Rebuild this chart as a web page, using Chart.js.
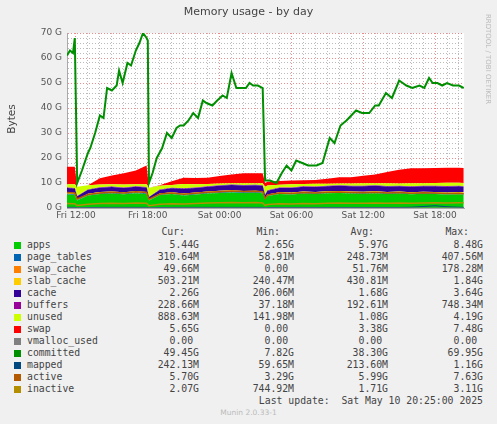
<!DOCTYPE html>
<html><head><meta charset="utf-8">
<script src="https://cdn.jsdelivr.net/npm/chart.js@4/dist/chart.umd.min.js"></script>
<style>
body{margin:0;background:#F0F0F0;width:497px;height:424px;overflow:hidden;position:relative;font-family:"DejaVu Sans",sans-serif}
#wrap{position:absolute;left:0;top:0;width:497px;height:225px}
.t{position:absolute;white-space:pre;font-family:"DejaVu Sans Mono",monospace;font-size:9.8px;color:#444;line-height:12px}
.r{text-align:right}
.sq{position:absolute;width:7px;height:7px}
</style></head><body>
<div id="wrap"><canvas id="c" width="497" height="225"></canvas></div>
<div style="position:absolute;left:0;width:497px;top:5px;text-align:center;font-size:11px;color:#444">Memory usage - by day</div>
<div style="position:absolute;left:-14px;top:113px;width:50px;text-align:center;font-size:10.5px;color:#444;transform:rotate(-90deg)">Bytes</div>
<div style="position:absolute;left:433px;top:55px;width:110px;text-align:center;font-size:7px;color:#bbb;transform:rotate(90deg)">RRDTOOL / TOBI OETIKER</div>
<div id="leg"></div>
<script>
// stacked series time base (hours since Fri 00:00)
const hA=[11.25,11.9,12.1,13,14,15,16,17,17.9,18.1,19,20,21,22,23,24,25,26,27,27.6,27.8,28,29,30,31,32,33,34,35,36,37,38,39,40,41,42,43,44,44.4];
const apps=[5.4,5.2,3.0,5.0,5.6,5.8,5.5,5.9,5.6,3.0,5.2,5.6,5.0,5.4,5.8,6.0,6.2,6.0,6.1,5.9,3.5,4.8,5.6,5.4,5.8,5.6,5.9,6.0,5.8,5.7,5.9,5.6,5.8,5.5,5.7,5.6,5.4,5.5,5.4];
const pageTables=[0.3,0.3,0.2,0.25,0.28,0.3,0.3,0.32,0.3,0.1,0.2,0.25,0.28,0.3,0.3,0.32,0.33,0.3,0.3,0.3,0.1,0.2,0.25,0.28,0.3,0.3,0.32,0.3,0.3,0.3,0.32,0.3,0.3,0.3,0.31,0.3,0.3,0.31,0.31];
const swapCache=[0.05,0.05,0,0.02,0.05,0.06,0.05,0.05,0.05,0,0.03,0.05,0.06,0.08,0.1,0.12,0.1,0.08,0.06,0.06,0.02,0.04,0.05,0.05,0.06,0.05,0.05,0.05,0.06,0.05,0.05,0.05,0.05,0.05,0.05,0.05,0.05,0.05,0.05];
const slabCache=[0.45,0.45,0.3,0.4,0.45,0.45,0.45,0.45,0.45,0.3,0.4,0.45,0.45,0.45,0.45,0.45,0.45,0.45,0.45,0.45,0.3,0.4,0.45,0.45,0.45,0.45,0.45,0.45,0.45,0.45,0.45,0.45,0.45,0.45,0.45,0.45,0.5,0.5,0.5];
const cache=[1.8,1.8,1.2,1.6,1.7,1.8,1.7,1.8,1.8,1.0,1.4,1.6,1.9,1.8,1.9,2.0,2.1,2.2,2.2,2.2,1.3,1.5,1.7,1.8,1.9,2.0,2.0,2.1,2.1,2.2,2.2,2.2,2.1,2.2,2.2,2.3,2.3,2.3,2.26];
const buffers=[0.2,0.2,0.1,0.15,0.2,0.2,0.2,0.2,0.2,0.05,0.15,0.2,0.2,0.2,0.2,0.2,0.2,0.2,0.2,0.2,0.05,0.15,0.2,0.2,0.2,0.2,0.2,0.2,0.2,0.2,0.2,0.2,0.2,0.2,0.23,0.23,0.23,0.23,0.23];
const unused=[1.3,1.5,3.7,1.7,1.1,0.9,1.2,0.8,1.1,3.7,1.5,1.1,1.7,1.3,0.9,0.7,0.5,0.7,0.6,0.8,3.2,1.9,1.1,1.3,0.9,1.1,0.8,0.7,0.9,1.0,0.8,1.1,0.9,1.2,1.0,1.1,1.3,1.2,1.3];
const swap=[7,7,0,0,2.5,3.5,4.5,5.5,7.5,0,0.2,1.5,2.5,2.5,2.5,3,3.5,4,4,4,1.5,1.5,1.5,1.5,1.5,1.5,2,2.5,2.5,3,3.5,4.5,5.5,6,6,6,6,6,6];
const vmalloc=hA.map(()=>0);
const active=[6.2,6.0,3.6,5.4,6.0,6.3,6.0,6.5,6.2,3.5,5.6,6.0,5.5,5.9,6.3,6.5,6.8,6.6,6.7,6.5,3.8,5.2,6.0,5.8,6.2,6.0,6.3,6.4,6.2,6.1,6.3,6.0,6.2,5.9,6.1,6.0,5.8,5.9,5.7];
const inactive=[1.8,1.7,1.0,1.5,1.8,1.9,1.8,2.0,1.9,0.9,1.5,1.7,1.6,1.8,2.0,2.1,2.2,2.1,2.2,2.0,1.0,1.4,1.7,1.6,1.8,1.7,1.9,2.0,1.9,1.9,2.0,1.9,2.0,1.9,2.0,2.1,2.0,2.1,2.07];
const mapped=[0.25,0.25,0.1,0.2,0.22,0.25,0.25,0.25,0.25,0.08,0.2,0.22,0.25,0.25,0.25,0.25,0.25,0.25,0.25,0.25,0.08,0.2,0.22,0.22,0.22,0.22,0.22,0.22,0.22,0.22,0.22,0.22,0.22,0.3,0.6,0.9,0.5,0.3,0.24];
// committed has its own finer time base
const cx=[11.25,11.5,11.75,11.9,12.0,12.1,12.5,13,13.2,13.6,14,14.3,14.6,15,15.4,15.6,15.9,16.3,16.6,17,17.3,17.6,17.9,18.0,18.1,18.4,18.75,19.2,19.6,20,20.4,20.7,21,21.4,21.8,22.2,22.6,22.9,23.4,23.8,24.25,24.6,25,25.4,25.8,26.2,26.5,26.8,27.2,27.6,27.7,27.8,28.2,28.75,29.2,29.6,30,30.4,30.9,31.4,32.1,32.6,33.2,33.6,34.1,34.6,35,35.4,35.9,36.5,37,37.3,37.9,38.4,39,39.3,39.6,40.1,40.7,41.1,41.5,41.8,42.2,42.6,43,43.5,44,44.4];
const committed=[61,63,62,68,40,10,15,22,24,30,37,36,48,47,49,55,50,58,57,63,66,70,68,67,10,14,20,24,30,28,32,33,33,35,38,36,43,42,41,43,45,44,54,48,48,48,50,49,49,48,30,11,11,10,14,17,15,19,18,17,17,18,28,26,33,35,37,39,38,38,41,41,46,44,51,50,49,48,49,48,52,50,50,49,50,49,49,48];
const yTicks=[0,10,20,30,40,50,60,70];
const legNames=["apps","page_tables","swap_cache","slab_cache","cache","buffers","unused","swap","vmalloc_used","committed","mapped","active","inactive"];
const legColors=["#00CC00","#0066B3","#FF8000","#FFCC00","#330099","#990099","#CCFF00","#FF0000","#808080","#008F00","#00487D","#B35A00","#B38F00"];
const legCur=["5.44G","310.64M","49.66M","503.21M","2.26G","228.66M","888.63M","5.65G","0.00 ","49.45G","242.13M","5.70G","2.07G"];
const legMin=["2.65G","58.91M","0.00 ","240.47M","206.06M","37.18M","141.98M","0.00 ","0.00 ","7.82G","59.65M","3.29G","744.92M"];
const legAvg=["5.97G","248.73M","51.76M","430.81M","1.68G","192.61M","1.08G","3.38G","0.00 ","38.30G","213.60M","5.99G","1.71G"];
const legMax=["8.48G","407.56M","178.28M","1.84G","3.64G","748.34M","4.19G","7.48G","0.00 ","69.95G","1.16G","7.63G","3.11G"];

const P=(xs,ys)=>xs.map((x,i)=>({x,y:ys[i]}));
const stackSer=[apps,pageTables,swapCache,slabCache,cache,buffers,unused,swap];
const ds=stackSer.map((s,i)=>({data:P(hA,s),backgroundColor:legColors[i],borderColor:legColors[i],borderWidth:0,fill:i===0?'origin':'-1',stack:'a',pointRadius:0,tension:0,order:10}));
const line=(xs,ys,c,w,st)=>({data:P(xs,ys),borderColor:c,borderWidth:w,fill:false,stack:st,pointRadius:0,tension:0,order:1});
ds.push(line(hA,vmalloc,legColors[8],1,'v'));
ds.push(line(hA,mapped,legColors[10],1,'m'));
ds.push(line(hA,active,legColors[11],1.4,'ac'));
ds.push(line(hA,inactive,legColors[12],1.4,'in'));
ds.push(line(cx,committed,legColors[9],2,'c'));

const bg={id:'bg',beforeDraw(ch){const c=ch.ctx,a=ch.chartArea;c.save();c.fillStyle='#F0F0F0';c.fillRect(0,0,ch.width,ch.height);c.fillStyle='#FFFFFF';c.fillRect(a.left,a.top,a.right-a.left,a.bottom-a.top);c.restore();}};
const fnt={family:'DejaVu Sans',size:9};
new Chart(document.getElementById('c'),{type:'line',data:{datasets:ds},plugins:[bg],
options:{responsive:false,animation:false,events:[],
layout:{padding:{left:0,right:33,top:33,bottom:0}},
plugins:{legend:{display:false},tooltip:{enabled:false}},
scales:{
x:{type:'linear',min:11.25,max:44.42,afterFit:s=>{s.height=17},
 afterBuildTicks:s=>{const t=[];for(let h=12;h<=44;h++)t.push({value:h});s.ticks=t;},
 ticks:{autoSkip:false,maxRotation:0,color:'#555',font:fnt,padding:2,callback:v=>v%6===0?((v<24?'Fri ':'Sat ')+String(v%24).padStart(2,'0')+':00'):''},
 grid:{drawTicks:false,color:c=>c.tick&&c.tick.value%6===0?'rgba(235,110,110,0.8)':'rgba(170,170,170,0.8)',lineWidth:1},
 border:{color:'#aaa',dash:[1,2]}},
y:{stacked:true,min:0,max:70,afterFit:s=>{s.width=67},
 afterBuildTicks:s=>{const t=[];for(let v=0;v<=70;v+=2)t.push({value:v});s.ticks=t;},
 ticks:{autoSkip:false,color:'#555',font:fnt,padding:5,callback:v=>yTicks.includes(v)?v+' G':''},
 grid:{drawTicks:false,color:c=>c.tick&&c.tick.value%10===0?'rgba(235,110,110,0.8)':'rgba(170,170,170,0.8)',lineWidth:1},
 border:{color:'#aaa',dash:[1,2]}}
}}});

// legend
const L=document.getElementById('leg');let h='';
const cols=[199,294,388,483];
[['Cur:',0],['Min:',1],['Avg:',2],['Max:',3]].forEach(([t,i])=>{h+=`<div class="t r" style="left:${cols[i]-114}px;width:100px;top:226px">${t}</div>`;});
legNames.forEach((n,i)=>{const y=239+i*12;
 h+=`<div class="sq" style="left:14px;top:${y+3}px;background:${legColors[i]}"></div>`;
 h+=`<div class="t" style="left:27px;top:${y}px">${n}</div>`;
 [legCur,legMin,legAvg,legMax].forEach((a,k)=>{h+=`<div class="t r" style="left:${cols[k]-100}px;width:100px;top:${y}px">${a[i]}</div>`;});});
h+=`<div class="t r" style="left:183px;width:300px;top:395px">Last update:  Sat May 10 20:25:00 2025</div>`;
h+=`<div style="position:absolute;left:0;width:497px;text-align:center;top:408px;font-size:7.5px;color:#bbb">Munin 2.0.33-1</div>`;
L.innerHTML=h;
</script></body></html>
